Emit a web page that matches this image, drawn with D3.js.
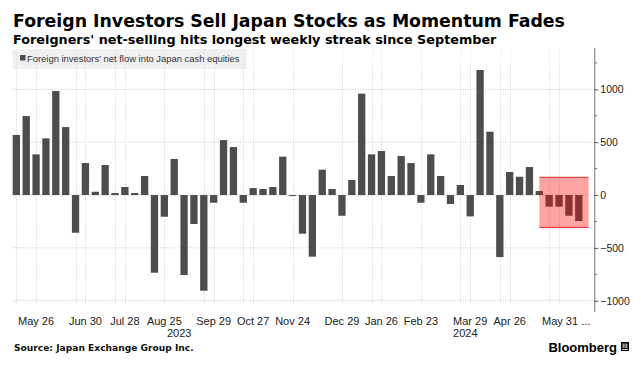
<!DOCTYPE html>
<html><head><meta charset="utf-8">
<script src="https://cdn.jsdelivr.net/npm/d3@7"></script>
<style>
html,body{margin:0;padding:0;background:#fff;}
svg{display:block;}
</style></head>
<body>
<svg id="c" width="641" height="366"></svg>
<script>
// ---- data ----
const weeks = ["2023-05-12","2023-05-19","2023-05-26","2023-06-02","2023-06-09","2023-06-16","2023-06-23","2023-06-30",
"2023-07-07","2023-07-14","2023-07-21","2023-07-28","2023-08-04","2023-08-11","2023-08-18","2023-08-25",
"2023-09-01","2023-09-08","2023-09-15","2023-09-22","2023-09-29","2023-10-06","2023-10-13","2023-10-20","2023-10-27",
"2023-11-03","2023-11-10","2023-11-17","2023-11-24","2023-12-01","2023-12-08","2023-12-15","2023-12-22","2023-12-29",
"2024-01-05","2024-01-12","2024-01-19","2024-01-26","2024-02-02","2024-02-09","2024-02-16","2024-02-23",
"2024-03-01","2024-03-08","2024-03-15","2024-03-22","2024-03-29","2024-04-05","2024-04-12","2024-04-19","2024-04-26",
"2024-05-03","2024-05-10","2024-05-17","2024-05-24","2024-05-31","2024-06-07","2024-06-14"];
const netFlow = [568,747,385,536,984,643,-357,303,31,284,19,76,19,180,-735,-205,341,-757,-274,-905,-73,
520,454,-73,66,57,76,363,-5,-366,-583,240,57,-196,142,959,385,416,180,369,303,-73,385,180,-85,95,-202,
1183,599,-587,218,173,265,38,-110,-110,-196,-246];
const xTickWeeks = ["2023-05-26","2023-06-30","2023-07-28","2023-08-25","2023-09-29","2023-10-27","2023-11-24",
"2023-12-29","2024-01-26","2024-02-23","2024-03-29","2024-04-26","2024-05-31"];
const xTickLabels = ["May 26","Jun 30","Jul 28","Aug 25","Sep 29","Oct 27","Nov 24","Dec 29","Jan 26","Feb 23","Mar 29","Apr 26","May 31 ..."];
const extraGridWeeks = ["2023-05-12","2023-06-23","2023-07-21","2023-09-22","2023-10-20","2024-01-19","2024-03-22","2024-04-19","2024-05-24"];
const years = ["2023","2024"];
const yTicks = [-1000,-500,0,500,1000];
const yMinorTicks = [-750,-250,250,750,1250];
const highlightWeeks = ["2024-05-17","2024-06-14"];
const highlightRange = [-306,167];
const title = "Foreign Investors Sell Japan Stocks as Momentum Fades";
const subtitle = "Foreigners' net-selling hits longest weekly streak since September";
const legendLabel = "Foreign investors' net flow into Japan cash equities";
const source = "Source: Japan Exchange Group Inc.";

// ---- layout ----
const svg = d3.select("#c");
const plotLeft = 12.7, axisX = 594.3, plotTop = 48, plotBottom = 311;
const x = d3.scaleBand().domain(weeks).range([11.4, 583.7]).paddingInner(0.26).paddingOuter(0.13);
const y = d3.scaleLinear().domain([-1097, 1391]).range([plotBottom, plotTop]);
const cx = d => x(d) + x.bandwidth()/2;
const FONT = "'Liberation Sans', Arial, sans-serif";

function fit(sel, w){
  const n = sel.node();
  const fs = parseFloat(sel.attr("font-size"));
  const len = n.getComputedTextLength();
  if(len>0) sel.attr("font-size", fs*w/len);
}

// title
const t1 = svg.append("text").attr("x",13).attr("y",27).attr("font-family","'DejaVu Sans', sans-serif")
  .attr("font-weight","bold").attr("font-size",19).attr("fill","#000").text(title);
fit(t1, 552);
const t2 = svg.append("text").attr("x",13).attr("y",44).attr("font-family","'DejaVu Sans', sans-serif")
  .attr("font-weight","bold").attr("font-size",15).attr("fill","#000").text(subtitle);
fit(t2, 484);

// legend background
svg.append("rect").attr("x",plotLeft).attr("y",49).attr("width",234).attr("height",20).attr("fill","#f0f0f0");

// horizontal gridlines
svg.append("g").selectAll("line").data(yTicks).join("line")
  .attr("x1",plotLeft).attr("x2",axisX).attr("y1",d=>y(d)).attr("y2",d=>y(d))
  .attr("stroke","#c8c8c8").attr("stroke-width",1).attr("stroke-dasharray","1,1.5");

// vertical gridlines
const gridWeeks = xTickWeeks.concat(extraGridWeeks);
svg.append("g").selectAll("line").data(gridWeeks).join("line")
  .attr("x1",d=>Math.round(cx(d))+0.5).attr("x2",d=>Math.round(cx(d))+0.5)
  .attr("y1",plotTop+21).attr("y2",304)
  .attr("stroke","#d0d0d0").attr("stroke-width",1).attr("stroke-dasharray","1,1.5");
svg.append("g").selectAll("line").data(gridWeeks).join("line")
  .attr("x1",d=>Math.round(cx(d))+0.5).attr("x2",d=>Math.round(cx(d))+0.5)
  .attr("y1",plotTop+1).attr("y2",plotTop+20)
  .attr("stroke","#e0e0e0").attr("stroke-width",1).attr("stroke-dasharray","1,1.5");

// legend
svg.append("rect").attr("x",20).attr("y",55).attr("width",5.5).attr("height",5.5).attr("fill","#4d4d4d");
const lg = svg.append("text").attr("x",27).attr("y",62).attr("font-family",FONT).attr("font-size",10)
  .attr("fill","#333").text(legendLabel);
fit(lg, 213);

// bars
svg.append("g").selectAll("rect").data(weeks).join("rect")
  .attr("x",d=>x(d)).attr("width",x.bandwidth())
  .attr("y",(d,i)=>y(Math.max(0,netFlow[i])))
  .attr("height",(d,i)=>Math.max(1,Math.abs(y(netFlow[i])-y(0))))
  .attr("fill","#4d4d4d");

// highlight box
const hx0 = cx(highlightWeeks[0]), hx1 = cx(highlightWeeks[1]) + x.step();
svg.append("rect").attr("x",hx0).attr("width",hx1-hx0)
  .attr("y",y(highlightRange[1])).attr("height",y(highlightRange[0])-y(highlightRange[1]))
  .attr("fill","rgba(255,0,0,0.36)");
[highlightRange[0],highlightRange[1]].forEach(v=>{
  svg.append("line").attr("x1",hx0).attr("x2",hx1).attr("y1",y(v)).attr("y2",y(v))
    .attr("stroke","#e04848").attr("stroke-width",1.2);
});

// y axis
const yAxis = d3.axisRight(y).tickValues(yTicks).tickSize(4).tickPadding(2).tickFormat(d3.format("d"));
const ga = svg.append("g").attr("transform",`translate(${axisX},0)`).call(yAxis);
ga.select(".domain").attr("d",`M0.5,${plotTop}V${plotBottom+1}`).attr("stroke","#777");
ga.selectAll(".tick line").attr("stroke","#555");
ga.selectAll(".tick text").attr("font-family",FONT).attr("font-size",10.5).attr("fill","#222");
svg.append("g").selectAll("line").data(yMinorTicks).join("line")
  .attr("x1",axisX+0.5).attr("x2",axisX+3).attr("y1",d=>y(d)).attr("y2",d=>y(d)).attr("stroke","#777");

// x labels
svg.append("g").selectAll("text").data(xTickWeeks).join("text")
  .attr("x",(d,i)=> i===xTickWeeks.length-1 ? cx(d)-17 : cx(d))
  .attr("y",325).attr("text-anchor",(d,i)=> i===xTickWeeks.length-1 ? "start":"middle")
  .attr("font-family",FONT).attr("font-size",11).attr("fill","#222")
  .text((d,i)=>xTickLabels[i]);

// year labels centred on each year's span of weeks
years.forEach(yr=>{
  const ws = weeks.filter(w=>w.startsWith(yr));
  const mid = (x(ws[0]) + x(ws[ws.length-1]) + x.bandwidth())/2;
  svg.append("text").attr("x",mid).attr("y",337).attr("text-anchor","middle")
    .attr("font-family",FONT).attr("font-size",11).attr("fill","#222").text(yr);
});

// source
const src = svg.append("text").attr("x",14).attr("y",351).attr("font-family","'DejaVu Sans', sans-serif")
  .attr("font-weight","bold").attr("font-size",8.5).attr("fill","#111").text(source);
fit(src, 180);

// Bloomberg
const bb = svg.append("text").attr("x",617).attr("y",352).attr("text-anchor","end")
  .attr("font-family",FONT).attr("font-weight","bold").attr("font-size",13).attr("fill","#000").text("Bloomberg");
const logo = svg.append("g").attr("transform","translate(621,342)");
logo.append("rect").attr("width",8).attr("height",9).attr("fill","#000");
[1.7,3.5,5.3].forEach(px=>logo.append("line").attr("x1",px+0.5).attr("x2",px+0.5).attr("y1",1.5).attr("y2",6)
  .attr("stroke","#fff").attr("stroke-width",0.9));
logo.append("line").attr("x1",1).attr("x2",7).attr("y1",7.5).attr("y2",7.5).attr("stroke","#fff").attr("stroke-width",0.8);
</script>
</body></html>
